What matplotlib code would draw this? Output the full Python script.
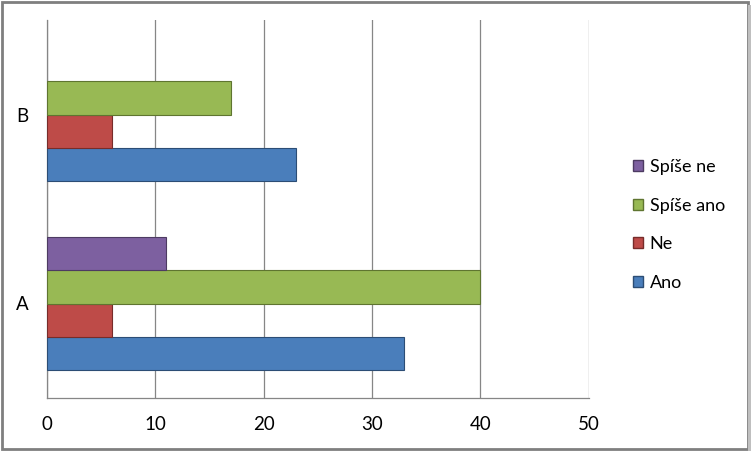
import matplotlib
matplotlib.use("Agg")
import matplotlib.pyplot as plt
from matplotlib.patches import Rectangle, Patch
import numpy as np

categories = ["A", "B"]
series_names = ["Ano", "Ne", "Spíše ano", "Spíše ne"]
ano = [33, 23]
ne = [6, 6]
spise_ano = [40, 17]
spise_ne = [11, 0]
values = [ano, ne, spise_ano, spise_ne]
colors = ["#4A7EBB", "#BE4B48", "#98B954", "#7D60A0"]
edges = ["#2C4D75", "#772C2A", "#5F7530", "#4D3B62"]
xticks = [0, 10, 20, 30, 40, 50]

plt.rcParams['font.family'] = ['Lato', 'DejaVu Sans']

fig = plt.figure(figsize=(7.53, 4.51), dpi=100)
ax = fig.add_axes([47/753, 1-398/451, (588.5-47)/753, (398-20)/451])

y = np.arange(len(categories))
bh = 0.175
for i, (vals, c, ec, name) in enumerate(zip(values, colors, edges, series_names)):
    offs = (i - 1.5) * bh
    lw = [0.8 if v > 0 else 0 for v in vals]
    ax.barh(y + offs, vals, height=bh, color=c, edgecolor=ec, linewidth=lw, label=name, zorder=3)

ax.set_xlim(0, 50)
ax.set_ylim(-0.5, 1.5)
ax.set_xticks(xticks)
ax.set_yticks(y)
ax.set_yticklabels(categories)
ax.tick_params(axis='both', length=0, labelsize=13.5, colors='#000000')
ax.tick_params(axis='x', pad=13)
ax.tick_params(axis='y', pad=13)
ax.grid(axis='x', color='#868686', linewidth=0.9, zorder=0)
for s in ['top', 'right']:
    ax.spines[s].set_visible(False)
for s in ['left', 'bottom']:
    ax.spines[s].set_color('#868686')
    ax.spines[s].set_linewidth(0.9)

handles = [Patch(facecolor=c, edgecolor=ec) for c, ec in zip(colors, edges)][::-1]
labels = series_names[::-1]
leg = fig.legend(handles, labels, loc='center left', bbox_to_anchor=(617/753, 1-225/451),
                 frameon=False, fontsize=13, labelspacing=1.25, handlelength=0.55,
                 handleheight=0.55, handletextpad=0.35)

fig.patches.append(Rectangle((0.002, 0.004), 0.992, 0.992, transform=fig.transFigure,
                             fill=False, edgecolor='#7F7F7F', linewidth=2.0))
fig.patches.append(Rectangle((0.994, 0.0), 0.004, 0.99, transform=fig.transFigure,
                             facecolor='#BFBFBF', edgecolor='none'))
fig.savefig("out.png", dpi=100)
